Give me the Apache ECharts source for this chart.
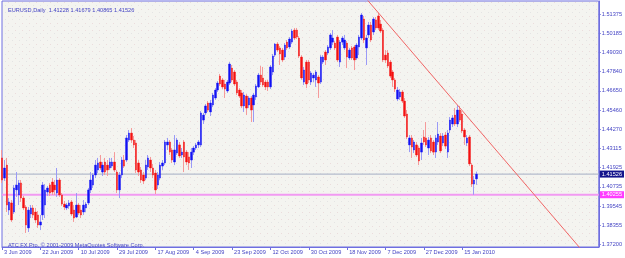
<!DOCTYPE html>
<html>
<head>
<meta charset="utf-8">
<script src="https://cdn.jsdelivr.net/npm/echarts@6/dist/echarts.min.js"></script>
<style>
html, body { margin: 0; padding: 0; background: #ffffff; }
#chart { width: 625px; height: 258px; }
</style>
</head>
<body>
<div id="chart"></div>
<script>
// EURUSD daily bars, 3 Jun 2009 .. 22 Jan 2010
const opens = [
  1.4252, 1.4128, 1.4208, 1.3931, 1.3975, 1.3919, 1.4055, 1.4024, 1.4098, 1.4005,
  1.3950, 1.3821, 1.3907, 1.3944, 1.3919, 1.3901, 1.3839, 1.3901, 1.3962, 1.4042,
  1.4085, 1.4104, 1.4085, 1.4036, 1.4116, 1.4024, 1.3968, 1.3944, 1.3956, 1.3981,
  1.3931, 1.3888, 1.3962, 1.3931, 1.3919, 1.3944, 1.3975, 1.4055, 1.4085, 1.4147,
  1.4178, 1.4227, 1.4165, 1.4227, 1.4208, 1.4190, 1.4202, 1.4227, 1.4165, 1.4055,
  1.4147, 1.4239, 1.4239, 1.4362, 1.4405, 1.4362, 1.4344, 1.4221, 1.4178, 1.4147,
  1.4128, 1.4196, 1.4239, 1.4190, 1.4159, 1.4085, 1.4128, 1.4202, 1.4221, 1.4332,
  1.4350, 1.4301, 1.4227, 1.4282, 1.4332, 1.4270, 1.4350, 1.4288, 1.4258, 1.4239,
  1.4288, 1.4313, 1.4332, 1.4332, 1.4485, 1.4529, 1.4590, 1.4535, 1.4578, 1.4621,
  1.4670, 1.4756, 1.4732, 1.4707, 1.4664, 1.4713, 1.4805, 1.4781, 1.4719, 1.4670,
  1.4652, 1.4572, 1.4633, 1.4578, 1.4621, 1.4578, 1.4627, 1.4689, 1.4762, 1.4744,
  1.4719, 1.4719, 1.4689, 1.4781, 1.4885, 1.4953, 1.4929, 1.4916, 1.4873, 1.4965,
  1.4935, 1.4965, 1.5039, 1.5039, 1.4990, 1.4873, 1.4719, 1.4842, 1.4842, 1.4719,
  1.4744, 1.4732, 1.4750, 1.4719, 1.4842, 1.4904, 1.4898, 1.4929, 1.4965, 1.4959,
  1.4996, 1.4842, 1.4965, 1.4929, 1.4959, 1.4867, 1.4929, 1.4935, 1.4867, 1.4935,
  1.4990, 1.5107, 1.4929, 1.5009, 1.5070, 1.5027, 1.5101, 1.5126, 1.5076, 1.5039,
  1.4885, 1.4898, 1.4842, 1.4781, 1.4732, 1.4615, 1.4627, 1.4658, 1.4602, 1.4522,
  1.4332, 1.4375, 1.4301, 1.4332, 1.4313, 1.4288, 1.4381, 1.4375, 1.4313, 1.4375,
  1.4350, 1.4288, 1.4350, 1.4387, 1.4344, 1.4393, 1.4288, 1.4424, 1.4461, 1.4516,
  1.4461, 1.4547, 1.4522, 1.4424, 1.4344, 1.4381, 1.4208, 1.4091, 1.41228
];
const closes = [
  1.4116, 1.4190, 1.3962, 1.3981, 1.3870, 1.4067, 1.4085, 1.4098, 1.4005, 1.3944,
  1.3839, 1.3931, 1.3944, 1.3901, 1.3870, 1.3839, 1.3858, 1.4085, 1.4055, 1.4067,
  1.4036, 1.4042, 1.4055, 1.4116, 1.4024, 1.3968, 1.3950, 1.3962, 1.3975, 1.3907,
  1.3882, 1.3962, 1.3913, 1.3901, 1.3962, 1.3968, 1.4055, 1.4116, 1.4147, 1.4208,
  1.4221, 1.4190, 1.4208, 1.4165, 1.4178, 1.4227, 1.4227, 1.4178, 1.4055, 1.4147,
  1.4239, 1.4202, 1.4375, 1.4405, 1.4362, 1.4332, 1.4178, 1.4165, 1.4116, 1.4110,
  1.4208, 1.4252, 1.4190, 1.4147, 1.4055, 1.4147, 1.4208, 1.4221, 1.4350, 1.4350,
  1.4288, 1.4239, 1.4301, 1.4362, 1.4264, 1.4288, 1.4258, 1.4227, 1.4221, 1.4288,
  1.4313, 1.4332, 1.4350, 1.4529, 1.4516, 1.4572, 1.4547, 1.4590, 1.4639, 1.4670,
  1.4713, 1.4707, 1.4689, 1.4676, 1.4719, 1.4830, 1.4732, 1.4707, 1.4652, 1.4633,
  1.4572, 1.4639, 1.4559, 1.4621, 1.4547, 1.4639, 1.4695, 1.4762, 1.4719, 1.4701,
  1.4689, 1.4689, 1.4812, 1.4879, 1.4953, 1.4916, 1.4892, 1.4855, 1.4947, 1.4929,
  1.4984, 1.5033, 1.4990, 1.4996, 1.4879, 1.4744, 1.4793, 1.4707, 1.4732, 1.4775,
  1.4762, 1.4781, 1.4713, 1.4873, 1.4873, 1.4855, 1.4935, 1.5009, 1.4990, 1.4929,
  1.4855, 1.4965, 1.4990, 1.4978, 1.4873, 1.4916, 1.4867, 1.4855, 1.4947, 1.4996,
  1.5132, 1.4978, 1.4990, 1.5070, 1.4978, 1.5107, 1.5052, 1.5052, 1.5033, 1.4855,
  1.4855, 1.4818, 1.4756, 1.4732, 1.4676, 1.4670, 1.4658, 1.4602, 1.4510, 1.4381,
  1.4375, 1.4319, 1.4350, 1.4270, 1.4233, 1.4344, 1.4350, 1.4332, 1.4362, 1.4295,
  1.4288, 1.4375, 1.4399, 1.4295, 1.4387, 1.4325, 1.4405, 1.4485, 1.4498, 1.4461,
  1.4547, 1.4485, 1.4418, 1.4381, 1.4375, 1.4215, 1.4091, 1.4116, 1.41526
];
const lows = [
  1.4098, 1.4110, 1.3919, 1.3901, 1.3858, 1.3907, 1.4012, 1.3962, 1.3981, 1.3931,
  1.3790, 1.3796, 1.3882, 1.3882, 1.3851, 1.3821, 1.3808, 1.3870, 1.3882, 1.4018,
  1.4018, 1.4024, 1.4024, 1.4012, 1.4012, 1.3956, 1.3931, 1.3931, 1.3938, 1.3895,
  1.3858, 1.3882, 1.3901, 1.3882, 1.3901, 1.3919, 1.3962, 1.4036, 1.4067, 1.4128,
  1.4159, 1.4178, 1.4141, 1.4147, 1.4141, 1.4178, 1.4190, 1.4165, 1.4036, 1.4005,
  1.4128, 1.4190, 1.4227, 1.4350, 1.4344, 1.4313, 1.4159, 1.4141, 1.4098, 1.4091,
  1.4116, 1.4178, 1.4165, 1.4128, 1.4030, 1.4061, 1.4116, 1.4178, 1.4208, 1.4301,
  1.4270, 1.4221, 1.4208, 1.4270, 1.4252, 1.4252, 1.4165, 1.4208, 1.4178, 1.4190,
  1.4270, 1.4301, 1.4313, 1.4319, 1.4461, 1.4516, 1.4535, 1.4510, 1.4565, 1.4609,
  1.4658, 1.4695, 1.4676, 1.4621, 1.4652, 1.4701, 1.4719, 1.4695, 1.4639, 1.4621,
  1.4559, 1.4535, 1.4516, 1.4559, 1.4473, 1.4473, 1.4609, 1.4682, 1.4701, 1.4689,
  1.4670, 1.4664, 1.4676, 1.4762, 1.4873, 1.4904, 1.4824, 1.4842, 1.4855, 1.4916,
  1.4922, 1.4953, 1.4978, 1.4984, 1.4867, 1.4732, 1.4701, 1.4682, 1.4713, 1.4701,
  1.4719, 1.4689, 1.4621, 1.4707, 1.4830, 1.4824, 1.4885, 1.4916, 1.4947, 1.4916,
  1.4842, 1.4812, 1.4947, 1.4916, 1.4805, 1.4855, 1.4855, 1.4793, 1.4855, 1.4885,
  1.4978, 1.4959, 1.4824, 1.4990, 1.4965, 1.5009, 1.5039, 1.5039, 1.5021, 1.4842,
  1.4836, 1.4805, 1.4744, 1.4689, 1.4658, 1.4602, 1.4609, 1.4590, 1.4498, 1.4368,
  1.4288, 1.4252, 1.4282, 1.4258, 1.4208, 1.4239, 1.4332, 1.4319, 1.4270, 1.4282,
  1.4270, 1.4252, 1.4332, 1.4282, 1.4325, 1.4307, 1.4252, 1.4405, 1.4442, 1.4449,
  1.4442, 1.4473, 1.4405, 1.4332, 1.4325, 1.4202, 1.4073, 1.40255, 1.40865
];
const highs = [
  1.4301, 1.4239, 1.4252, 1.4005, 1.3993, 1.4085, 1.4165, 1.4116, 1.4116, 1.4018,
  1.3962, 1.3950, 1.3962, 1.3962, 1.3944, 1.3925, 1.3901, 1.4104, 1.4091, 1.4079,
  1.4098, 1.4128, 1.4116, 1.4190, 1.4128, 1.4036, 1.3987, 1.3975, 1.3993, 1.3993,
  1.3962, 1.4036, 1.3975, 1.3962, 1.3993, 1.3981, 1.4067, 1.4165, 1.4159, 1.4239,
  1.4252, 1.4270, 1.4227, 1.4252, 1.4239, 1.4252, 1.4252, 1.4288, 1.4178, 1.4165,
  1.4258, 1.4270, 1.4393, 1.4424, 1.4436, 1.4387, 1.4362, 1.4239, 1.4196, 1.4165,
  1.4239, 1.4270, 1.4258, 1.4215, 1.4178, 1.4165, 1.4227, 1.4239, 1.4362, 1.4375,
  1.4362, 1.4313, 1.4393, 1.4375, 1.4350, 1.4313, 1.4362, 1.4301, 1.4288, 1.4313,
  1.4325, 1.4344, 1.4362, 1.4541, 1.4529, 1.4584, 1.4602, 1.4609, 1.4652, 1.4682,
  1.4725, 1.4769, 1.4744, 1.4732, 1.4732, 1.4842, 1.4824, 1.4793, 1.4732, 1.4682,
  1.4670, 1.4658, 1.4645, 1.4633, 1.4633, 1.4652, 1.4707, 1.4775, 1.4818, 1.4812,
  1.4732, 1.4732, 1.4824, 1.4892, 1.4959, 1.4965, 1.4941, 1.4929, 1.4959, 1.4978,
  1.4996, 1.5046, 1.5052, 1.5052, 1.5002, 1.4885, 1.4812, 1.4855, 1.4855, 1.4787,
  1.4775, 1.4793, 1.4762, 1.4885, 1.4885, 1.4916, 1.4947, 1.5021, 1.5039, 1.4972,
  1.5009, 1.4978, 1.5002, 1.5009, 1.4972, 1.4929, 1.4941, 1.4947, 1.4959, 1.5009,
  1.5144, 1.5126, 1.5009, 1.5089, 1.5089, 1.5119, 1.5119, 1.5146, 1.5101, 1.5052,
  1.4916, 1.4916, 1.4855, 1.4793, 1.4744, 1.4689, 1.4676, 1.4670, 1.4621, 1.4547,
  1.4393, 1.4393, 1.4362, 1.4350, 1.4325, 1.4375, 1.4424, 1.4473, 1.4381, 1.4393,
  1.4362, 1.4393, 1.4473, 1.4405, 1.4405, 1.4412, 1.4424, 1.4504, 1.4516, 1.4559,
  1.4578, 1.4572, 1.4541, 1.4436, 1.4393, 1.4393, 1.4221, 1.4141, 1.41679
];

// date labels under every 16th bar
const xTickLabels = [
  '3 Jun 2009', '22 Jun 2009', '10 Jul 2009', '29 Jul 2009', '17 Aug 2009',
  '4 Sep 2009', '23 Sep 2009', '12 Oct 2009', '30 Oct 2009', '18 Nov 2009',
  '7 Dec 2009', '27 Dec 2009', '15 Jan 2010'
];
const labelStep = 16;
const yTicks = [
  1.51375, 1.50185, 1.49030, 1.47840, 1.46650, 1.45460, 1.44270,
  1.43115, 1.41925, 1.40735, 1.39545, 1.38355, 1.37200
];
const yMin = 1.37037;
const yMax = 1.5218;
const supportLevel = 1.40255;     // pink horizontal line
const trendAnchors = [157, 190];  // trend line drawn through these bars' highs
const nSlots = 250;               // bars + empty space on the right

const titleText = 'EURUSD,Daily  ' + [opens, highs, lows, closes]
  .map(a => a[a.length - 1].toFixed(5)).join(' ');

const last = closes.length - 1;
const cats = Array.from({ length: nSlots }, (_, i) => i);
const ohlc = opens.map((o, i) => [o, closes[i], lows[i], highs[i]]);
const bodies = opens.map((o, i) => {
  const c = closes[i];
  return [o, c, Math.min(o, c), Math.max(o, c)];
});

// MT4 style ray: extend the line through both anchors
const a0 = trendAnchors[0], a1 = trendAnchors[1];
const slope = (highs[a1] - highs[a0]) / (a1 - a0);
const trend = [150, nSlots - 1].map(i => [i, highs[a0] + slope * (i - a0)]);

const txt = '#4444c4';
const axisCol = '#6e6ee0';
const fontFam = 'Liberation Sans';
const fs = 5.6;
const showTick = idx => idx % labelStep === 0 && idx / labelStep < xTickLabels.length;

// faint dotted chart background like the terminal
const dots = document.createElement('canvas');
dots.width = 7; dots.height = 7;
const dctx = dots.getContext('2d');
dctx.fillStyle = '#f4f4f0';
dctx.fillRect(0, 0, 7, 7);
dctx.fillStyle = '#ebdcdc';
dctx.fillRect(1, 2, 1, 1);
dctx.fillStyle = '#e4e4e4';
dctx.fillRect(5, 5, 1, 1);

// horizontal level across the whole grid, with its price box on the scale
const level = (value, color, width, boxColor) => ({
  type: 'line', z: 1, symbol: 'none', silent: true,
  data: [[0, value], [nSlots - 1, value]],
  lineStyle: { color: color, width: width },
  endLabel: {
    show: true, distance: 1, formatter: value.toFixed(5),
    backgroundColor: boxColor, color: '#ffffff', padding: [1, 2, 0, 2],
    fontSize: fs, fontFamily: fontFam
  }
});

const chart = echarts.init(document.getElementById('chart'));
chart.setOption({
  animation: false,
  backgroundColor: '#ffffff',
  title: [
    {
      text: titleText, left: 3, top: 2,
      textStyle: { fontSize: fs, fontWeight: 'normal', color: txt, fontFamily: fontFam }
    },
    {
      text: 'ATC FX Pro, \u00a9 2001-2009 MetaQuotes Software Corp.', left: 3, top: 237,
      textStyle: { fontSize: fs, fontWeight: 'normal', color: txt, fontFamily: fontFam }
    }
  ],
  grid: {
    left: 2, right: 23, top: 1, bottom: 11,
    show: true, backgroundColor: { image: dots, repeat: 'repeat' },
    borderColor: axisCol, borderWidth: 1
  },
  xAxis: {
    type: 'category',
    data: cats,
    boundaryGap: false,
    axisLine: { lineStyle: { color: axisCol } },
    axisTick: { interval: showTick, length: 3, lineStyle: { color: axisCol } },
    axisLabel: {
      interval: showTick,
      formatter: (v, idx) => xTickLabels[idx / labelStep] || '',
      align: 'left', padding: [0, 0, 0, 2], margin: 2,
      fontSize: fs, color: txt, fontFamily: fontFam
    },
    splitLine: { show: false }
  },
  yAxis: {
    type: 'value',
    position: 'right',
    min: yMin, max: yMax,
    axisLine: { show: true, lineStyle: { color: axisCol } },
    axisTick: { show: true, length: 2, customValues: yTicks, lineStyle: { color: axisCol } },
    axisLabel: {
      customValues: yTicks, formatter: v => v.toFixed(5), margin: 3,
      fontSize: fs, color: txt, fontFamily: fontFam
    },
    splitLine: { show: false }
  },
  series: [
    level(closes[last], '#b4bbcc', 1.3, '#14148c'),
    level(supportLevel, '#f29af2', 2, '#ff3cff'),
    {
      // wicks
      type: 'candlestick', data: ohlc, barWidth: 1, z: 2,
      itemStyle: {
        color: '#9a9af6', color0: '#f59a9a',
        borderColor: '#9a9af6', borderColor0: '#f59a9a', borderWidth: 1
      }
    },
    {
      // bodies
      type: 'candlestick', data: bodies, barWidth: 2, z: 3,
      itemStyle: {
        color: '#1010f4', color0: '#f41010',
        borderColor: '#1010f4', borderColor0: '#f41010', borderWidth: 0.4
      }
    },
    {
      type: 'line', data: trend, z: 4, symbol: 'none', clip: true,
      lineStyle: { color: '#f06464', width: 1 }
    }
  ]
});
</script>
</body>
</html>
